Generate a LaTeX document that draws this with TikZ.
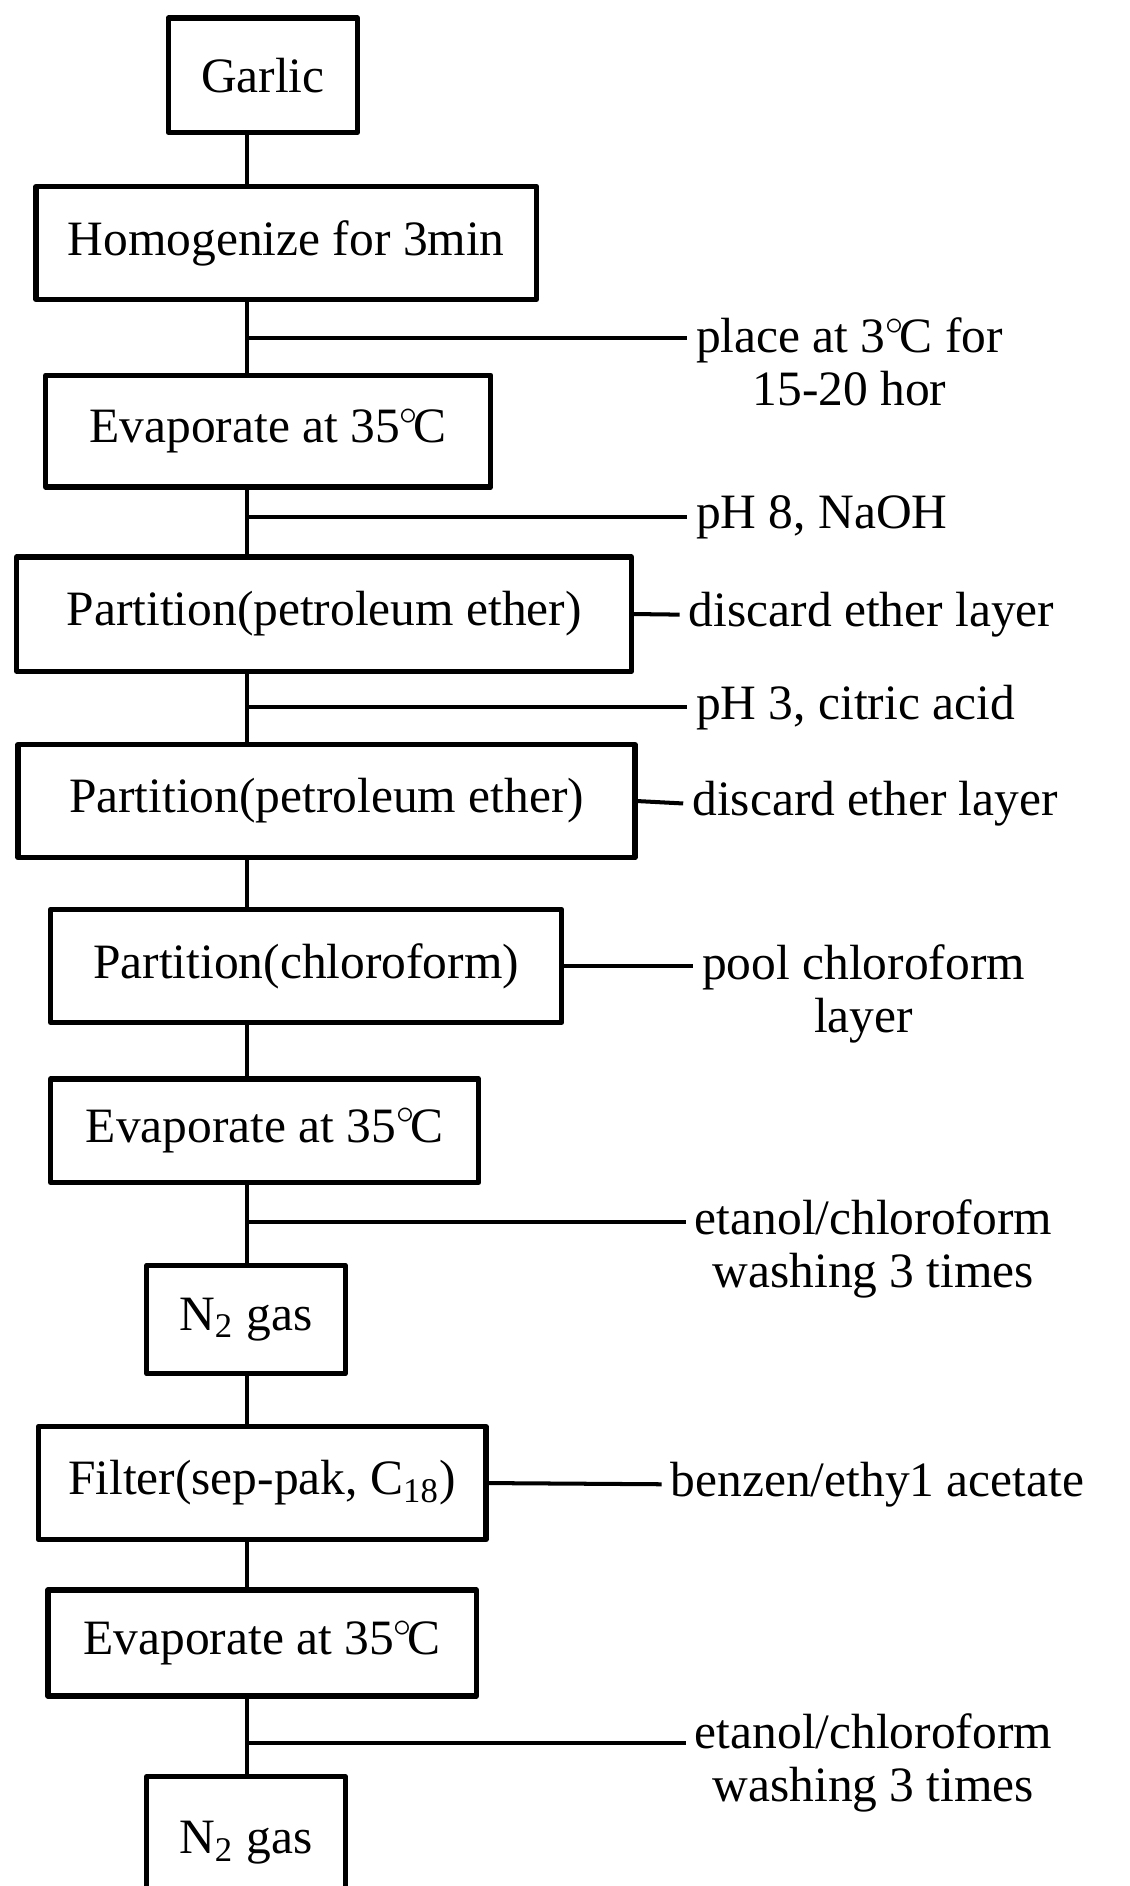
\documentclass[tikz,border=0pt]{standalone}
\usepackage{fontspec}
\setmainfont{Liberation Serif}
\newcommand{\degc}{\ensuremath{^{\circ}}\kern-.12em C}

\begin{document}
\begin{tikzpicture}[line join=round,
  every node/.style={font=\fontsize{11.7}{12.5}\selectfont},
  stepbox/.style={draw, line width=1.25pt, inner sep=0pt},
  note/.style={anchor=west, inner sep=2pt, align=center},
  link/.style={line width=0.95pt}]
  \path[use as bounding box, fill=white] (0,0) rectangle (9.39,-15.68);
  \coordinate (spine) at (2.05,0);

  \node[stepbox, minimum width=1.57cm, minimum height=0.95cm] (garlic) at (2.185,-0.625) {Garlic};
  \node[stepbox, minimum width=4.16cm, minimum height=0.94cm] (homog) at (2.38,-2.02) {Homogenize for 3min};
  \node[stepbox, minimum width=3.70cm, minimum height=0.93cm] (evapa) at (2.23,-3.585) {Evaporate at 35\degc};
  \node[stepbox, minimum width=5.11cm, minimum height=0.95cm] (parta) at (2.695,-5.105) {Partition(petroleum ether)};
  \node[stepbox, minimum width=5.13cm, minimum height=0.94cm] (partb) at (2.715,-6.66) {Partition(petroleum ether)};
  \node[stepbox, minimum width=4.25cm, minimum height=0.94cm] (partc) at (2.545,-8.03) {Partition(chloroform)};
  \node[stepbox, minimum width=3.56cm, minimum height=0.86cm] (evapb) at (2.20,-9.40) {Evaporate at 35\degc};
  \node[stepbox, minimum width=1.65cm, minimum height=0.90cm] (ngasa) at (2.045,-10.97) {N\textsubscript{2} gas};
  \node[stepbox, minimum width=3.72cm, minimum height=0.94cm] (filter) at (2.18,-12.33) {Filter(sep-pak, C\textsubscript{18})};
  \node[stepbox, minimum width=3.56cm, minimum height=0.88cm] (evapc) at (2.18,-13.66) {Evaporate at 35\degc};
  \node[stepbox, minimum width=1.65cm, minimum height=1.10cm] (ngasb) at (2.045,-15.32) {N\textsubscript{2} gas};

  \draw[link] (garlic.south -| spine) -- (homog.north -| spine);
  \draw[link] (homog.south -| spine) -- (evapa.north -| spine);
  \draw[link] (evapa.south -| spine) -- (parta.north -| spine);
  \draw[link] (parta.south -| spine) -- (partb.north -| spine);
  \draw[link] (partb.south -| spine) -- (partc.north -| spine);
  \draw[link] (partc.south -| spine) -- (evapb.north -| spine);
  \draw[link] (evapb.south -| spine) -- (ngasa.north -| spine);
  \draw[link] (ngasa.south -| spine) -- (filter.north -| spine);
  \draw[link] (filter.south -| spine) -- (evapc.north -| spine);
  \draw[link] (evapc.south -| spine) -- (ngasb.north -| spine);

  \coordinate (bplace) at (2.05,-2.81);
  \coordinate (bbase) at (2.05,-4.30);
  \coordinate (bacid) at (2.05,-5.88);
  \coordinate (bwasha) at (2.05,-10.16);
  \coordinate (bwashb) at (2.05,-14.49);

  \node[note] (lplace) at (5.71,-3.01) {place at 3\degc{} for\\15-20 hor};
  \node[note] (lbase) at (5.71,-4.30) {pH 8, NaOH};
  \node[note] (ldisca) at (5.65,-5.11) {discard ether layer};
  \node[note] (lacid) at (5.71,-5.88) {pH 3, citric acid};
  \node[note] (ldiscb) at (5.68,-6.68) {discard ether layer};
  \node[note] (lpool) at (5.76,-8.26) {pool chloroform\\layer};
  \node[note] (lwasha) at (5.70,-10.38) {etanol/chloroform\\washing 3 times};
  \node[note] (lbenz) at (5.50,-12.34) {benzen/ethy1 acetate};
  \node[note] (lwashb) at (5.70,-14.66) {etanol/chloroform\\washing 3 times};

  \draw[link] (bplace) -- (bplace -| lplace.west);
  \draw[link] (bbase) -- (lbase.west);
  \draw[link] (parta.east) -- (ldisca.west);
  \draw[link] (bacid) -- (lacid.west);
  \draw[link] (partb.east) -- (ldiscb.west);
  \draw[link] (partc.east) -- (partc.east -| lpool.west);
  \draw[link] (bwasha) -- (bwasha -| lwasha.west);
  \draw[link] (filter.east) -- (lbenz.west);
  \draw[link] (bwashb) -- (bwashb -| lwashb.west);
\end{tikzpicture}
\end{document}
